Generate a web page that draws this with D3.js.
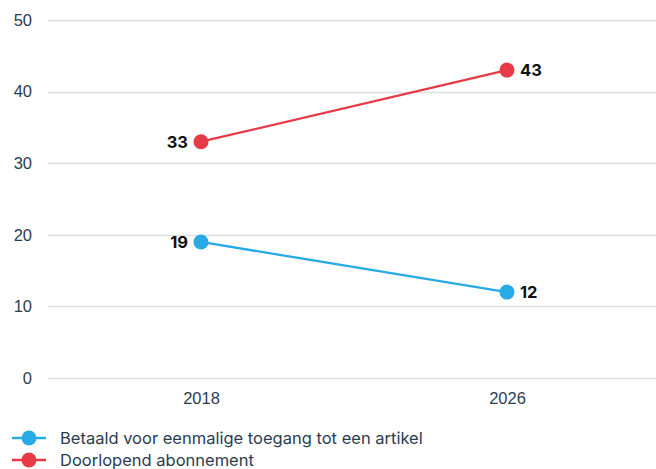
<!DOCTYPE html>
<html>
<head>
<meta charset="utf-8">
<script src="https://cdn.jsdelivr.net/npm/d3@7"></script>
<style>
  body { margin: 0; background: #fff; }
  svg { font-family: Inter, "Noto Sans", sans-serif; }
  .axis text { fill: #2b3d4f; font-size: 16.5px; }
  .grid line { stroke: #dcdfe4; stroke-width: 1.4; }
</style>
</head>
<body>
<svg id="chart" width="656" height="469"></svg>
<script>
var years = ["2018", "2026"];
var seriesNames = ["Betaald voor eenmalige toegang tot een artikel", "Doorlopend abonnement"];
var seriesColors = ["#27aae6", "#e63a46"];
var eenmalig = [19, 12];
var abonnement = [33, 43];
var yTicks = [0, 10, 20, 30, 40, 50];

var svg = d3.select("#chart");

var x = d3.scalePoint().domain(years).range([48, 660]).padding(0.5);
var y = d3.scaleLinear().domain([0, 50]).range([378, 20]);

// gridlines
svg.append("g")
  .attr("class", "grid")
  .selectAll("line")
  .data(yTicks)
  .enter().append("line")
  .attr("x1", 48)
  .attr("x2", 656)
  .attr("y1", function(d) { return Math.round(y(d)) + 0.5; })
  .attr("y2", function(d) { return Math.round(y(d)) + 0.5; });

// y axis labels
var yAxis = d3.axisLeft(y).tickValues(yTicks).tickSize(0).tickPadding(0);
svg.append("g")
  .attr("class", "axis")
  .attr("transform", "translate(32,0)")
  .call(yAxis)
  .call(function(g) { g.select(".domain").remove(); });

var xAxis = d3.axisBottom(x).tickSize(0).tickPadding(0);
svg.append("g")
  .attr("class", "axis")
  .attr("transform", "translate(0,392)")
  .call(xAxis)
  .call(function(g) { g.select(".domain").remove(); });

var series = [eenmalig, abonnement];

var line = d3.line()
  .x(function(d, i) { return x(years[i]); })
  .y(function(d) { return y(d); });

series.forEach(function(vals, s) {
  var g = svg.append("g");
  g.append("path")
    .datum(vals)
    .attr("fill", "none")
    .attr("stroke", seriesColors[s])
    .attr("stroke-width", 2.3)
    .attr("d", line);
  g.selectAll("circle")
    .data(vals)
    .enter().append("circle")
    .attr("cx", function(d, i) { return x(years[i]); })
    .attr("cy", function(d) { return y(d); })
    .attr("r", 7.5)
    .attr("fill", seriesColors[s]);
  g.selectAll("text")
    .data(vals)
    .enter().append("text")
    .attr("x", function(d, i) { return x(years[i]) + (i === 0 ? -13 : 13); })
    .attr("y", function(d) { return y(d); })
    .attr("dy", "0.36em")
    .attr("text-anchor", function(d, i) { return i === 0 ? "end" : "start"; })
    .attr("font-size", 16.5)
    .attr("font-weight", 700)
    .attr("fill", "#111")
    .text(function(d) { return d; });
});

// legend
var legend = svg.append("g");
seriesNames.forEach(function(name, s) {
  var ly = 438 + s * 22;
  legend.append("line")
    .attr("x1", 12).attr("x2", 46)
    .attr("y1", ly).attr("y2", ly)
    .attr("stroke", seriesColors[s])
    .attr("stroke-width", 2.3);
  legend.append("circle")
    .attr("cx", 29).attr("cy", ly).attr("r", 7.5)
    .attr("fill", seriesColors[s]);
  legend.append("text")
    .attr("x", 60).attr("y", ly)
    .attr("dy", "0.36em")
    .attr("font-size", 16.5)
    .attr("fill", "#2b3d4f")
    .text(name);
});
</script>
</body>
</html>
